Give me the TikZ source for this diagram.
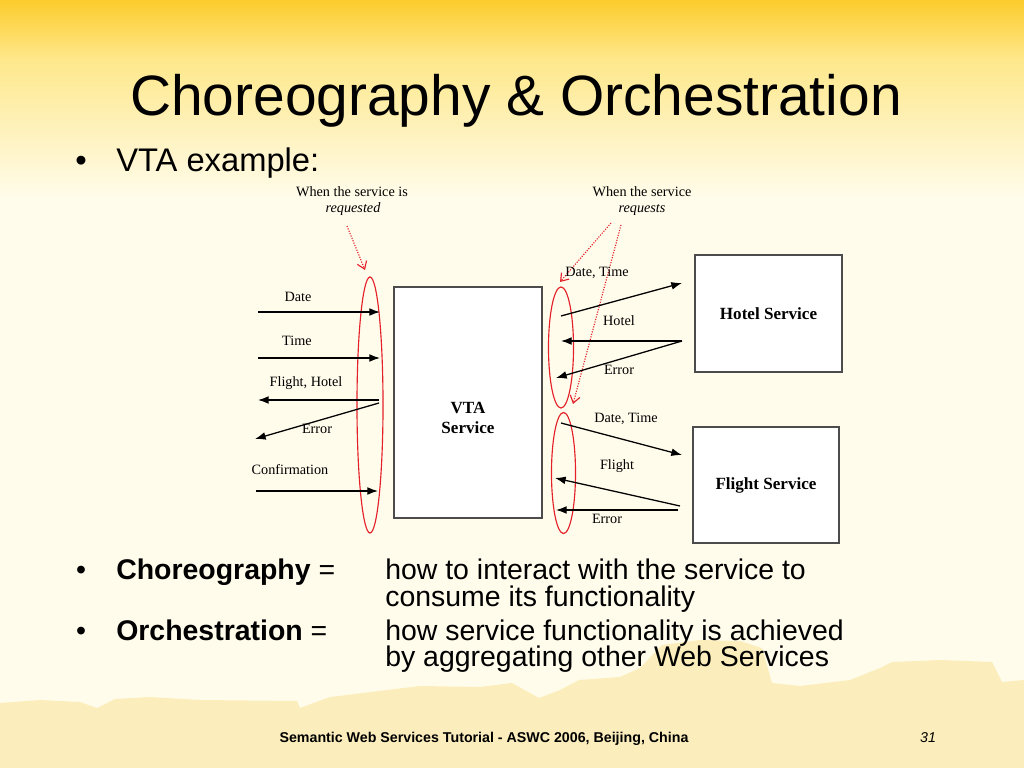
\documentclass[tikz,border=0pt]{standalone}
\usepackage{fontspec}
\setmainfont{Liberation Serif}
\newfontfamily\slidefont{Liberation Sans}
\usetikzlibrary{positioning,
        shapes.geometric,
        arrows.meta}
\definecolor{slidegold}{RGB}{252,204,44}
\definecolor{slidelight}{RGB}{254,232,140}
\definecolor{slidecream}{RGB}{255,252,236}
\definecolor{skyyellow}{RGB}{252,238,188}
\definecolor{ovalred}{RGB}{228,32,40}

\begin{document}
\begin{tikzpicture}[x=0.703125pt,y=-0.703125pt,
        svcbox/.style={rectangle,draw=black!70,line width=0.8pt,fill=white,
            font=\bfseries\fontsize{12}{14}\selectfont,align=center},
        redoval/.style={ellipse,draw=ovalred,line width=0.8pt,inner sep=0pt},
        msg/.style={-{Latex[length=7.5pt,width=5.5pt]},line width=0.9pt},
        hint/.style={-{Straight Barb[length=5pt,width=7pt]},ovalred,densely dotted,line width=0.8pt},
        lbl/.style={anchor=base,font=\fontsize{10}{12}\selectfont},
        slide/.style={anchor=base west,inner sep=0pt,font=\slidefont\fontsize{20}{24}\selectfont}]
            % background
            \useasboundingbox (0,0) rectangle (1024,768);
            \fill [slidecream] (0,0) rectangle (1024,768);
            \shade [top color=slidegold,bottom color=slidelight] (0,0) rectangle (1024,60);
            \shade [top color=slidelight,bottom color=slidecream] (0,60) rectangle (1024,200);
            \fill [skyyellow] (0,703) -- (40,700) -- (80,702) -- (97,708) -- (115,699) -- (150,697)
                -- (200,700) -- (297,701) -- (300,708) -- (330,697) -- (420,686) -- (480,687)
                -- (512,683) -- (539,698) -- (560,690) -- (579,680) -- (620,677) -- (640,668)
                -- (662,645) -- (700,640) -- (740,641) -- (762,648) -- (772,683) -- (800,686)
                -- (850,680) -- (880,668) -- (892,662) -- (940,660) -- (992,662) -- (1002,682)
                -- (1024,680) -- (1024,768) -- (0,768) -- cycle;

            % slide texts
            \node [anchor=base,font=\slidefont\fontsize{40}{44}\selectfont] (title) at (516,116) {Choreography \& Orchestration};
            \node [anchor=base,font=\slidefont\fontsize{23}{26}\selectfont] (dot1) at (81,172) {•};
            \node [anchor=base west,inner sep=0pt,font=\slidefont\fontsize{23}{26}\selectfont] (vta) at (116,172) {VTA example:};
            \node [slide,anchor=base] (dot2) at (81,579) {•};
            \node [slide] (choreo) at (116,579) {\textbf{Choreography} =};
            \node [slide] (choreo1) at (385,579) {how to interact with the service to};
            \node [slide] (choreo2) at (385,606) {consume its functionality};
            \node [slide,anchor=base] (dot3) at (81,640) {•};
            \node [slide] (orch) at (116,640) {\textbf{Orchestration} =};
            \node [slide] (orch1) at (385,640) {how service functionality is achieved};
            \node [slide] (orch2) at (385,666) {by aggregating other Web Services};
            \node [anchor=base,font=\slidefont\bfseries\fontsize{10}{12}\selectfont] (footer) at (484,742) {Semantic Web Services Tutorial - ASWC 2006, Beijing, China};
            \node [anchor=base,font=\slidefont\itshape\fontsize{10}{12}\selectfont] (page) at (928,742) {31};

            % services
            \node [svcbox,minimum width=104.1pt,minimum height=162.4pt] (VTA) at (468,402.5) {};
            \node [font=\bfseries\fontsize{12}{14}\selectfont,align=center] (VTAname) at (468,418) {VTA\\Service};
            \node [svcbox,minimum width=103.4pt,minimum height=82.3pt] (Hotel) at (768.5,313.5) {Hotel Service};
            \node [svcbox,minimum width=102.7pt,minimum height=81.6pt] (Flight) at (766,485) {Flight Service};

            % interfaces
            \node [redoval,minimum width=18.3pt,minimum height=180pt] (inL) at (370,405) {};
            \node [redoval,minimum width=17.6pt,minimum height=85.1pt] (outH) at (561,347.5) {};
            \node [redoval,minimum width=16.9pt,minimum height=85.1pt] (outF) at (563.5,473) {};

            % hints
            \node [lbl] (reqA) at (352,197) {When the service is};
            \node [lbl,font=\itshape\fontsize{10}{12}\selectfont] (reqB) at (353,213) {requested};
            \node [lbl] (reqsA) at (642,197) {When the service};
            \node [lbl,font=\itshape\fontsize{10}{12}\selectfont] (reqsB) at (642,213) {requests};
            \coordinate (h1) at (347,226);
            \coordinate (h2) at (611,223);
            \coordinate (h3) at (621,225);
            \coordinate (h1e) at (365,270);
            \coordinate (h2e) at (560,282);
            \coordinate (h3e) at (573,404);
            \draw [hint] (h1) -- (h1e);
            \draw [hint] (h2) -- (h2e);
            \draw [hint] (h3) -- (h3e);

            % messages to VTA
            \coordinate (a1) at (258,312);  \coordinate (b1) at (380,312);
            \coordinate (a2) at (258,358);  \coordinate (b2) at (380,358);
            \coordinate (a3) at (258,400);  \coordinate (b3) at (379,400);
            \coordinate (a4) at (255,439);  \coordinate (b4) at (379,403);
            \coordinate (a5) at (256,491);  \coordinate (b5) at (378,491);
            \draw [msg] (a1) -- (b1);
            \draw [msg] (a2) -- (b2);
            \draw [msg] (b3) -- (a3);
            \draw [msg] (b4) -- (a4);
            \draw [msg] (a5) -- (b5);
            \node [lbl] (date) at (298,301) {Date};
            \node [lbl] (time) at (297,345) {Time};
            \node [lbl] (flighthotel) at (306,386) {Flight, Hotel};
            \node [lbl] (error) at (317,433) {Error};
            \node [lbl] (confirm) at (290,474) {Confirmation};

            % messages to Hotel and Flight
            \coordinate (c1) at (561,316);  \coordinate (d1) at (682,283);
            \coordinate (c2) at (561,341);  \coordinate (d2) at (682,341);
            \coordinate (c3) at (556,378);
            \coordinate (c4) at (561,423);  \coordinate (d4) at (682,455);
            \coordinate (c5) at (555,478);  \coordinate (d5) at (680,506);
            \coordinate (c6) at (556,510);  \coordinate (d6) at (678,510);
            \draw [msg] (c1) -- (d1);
            \draw [msg] (d2) -- (c2);
            \draw [msg] (d2) -- (c3);
            \draw [msg] (c4) -- (d4);
            \draw [msg] (d5) -- (c5);
            \draw [msg] (d6) -- (c6);
            \node [lbl] (datetimeH) at (597,277) {Date, Time};
            \node [lbl] (hotel) at (619,326) {Hotel};
            \node [lbl] (errorH) at (619,374) {Error};
            \node [lbl] (datetimeF) at (626,422) {Date, Time};
            \node [lbl] (flight) at (617,469) {Flight};
            \node [lbl] (errorF) at (607,523) {Error};
        \end{tikzpicture}
\end{document}
